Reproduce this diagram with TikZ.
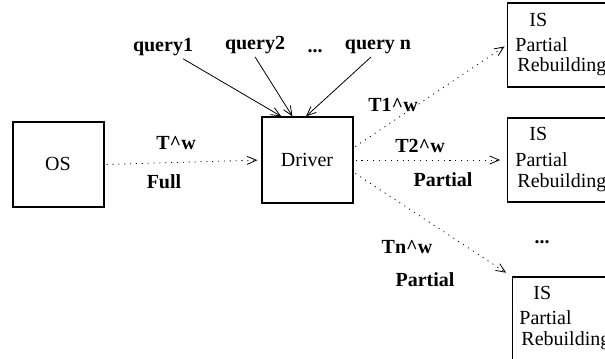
\documentclass[tikz,border=0pt]{standalone}
\usepackage{fontspec}
\setmainfont{Liberation Serif}
\usetikzlibrary{arrows.meta}

\tikzset{every picture/.style={line width=0.6pt}}
\tikzset{
  boxnode/.style={draw,line width=0.9pt,minimum width=68.25pt,minimum height=63.75pt,inner sep=0pt},
  isbox/.style={draw,line width=0.9pt,minimum width=82pt,minimum height=63pt,inner sep=0pt},
  lbl/.style={font=\fontsize{15}{18}\selectfont\bfseries,inner sep=2pt},
  txt/.style={font=\fontsize{15}{18}\selectfont,inner sep=0pt},
  flow/.style={dash pattern=on 0.8pt off 3.6pt,-{Straight Barb[length=7pt,width=6pt]}},
  qarrow/.style={-{Straight Barb[length=7pt,width=6pt]}}
}

\begin{document}
\begin{tikzpicture}[x=0.75pt,y=0.75pt,yscale=-1,xscale=1]
	\useasboundingbox (0,0) rectangle (605,358);
	\clip (0,0) rectangle (605,358);

	%Shape: Rectangle [OS]
	\node [boxnode] (os) at (58.5,164.5) {};
	%Shape: Rectangle [Driver]
	\node [boxnode,minimum height=64.5pt] (drv) at (307.5,160) {};
	%Shape: Rectangle [IS boxes]
	\node [isbox] (is1) at (562,45) {};
	\node [isbox] (is2) at (562,160) {};
	\node [isbox] (is3) at (567,319) {};

	% Text Node
	\draw (58,164) node [txt] (ostxt) {OS};
	% Text Node
	\draw (307,160) node [txt] (drvtxt) {Driver};

	% Text Node
	\draw (529,20) node [txt,anchor=west] (is1a) {IS};
	\draw (515,45) node [txt,anchor=west] (is1b) {Partial};
	\draw (517,67) node [txt,anchor=west] (is1c) {Rebuilding};
	% Text Node
	\draw (529,134) node [txt,anchor=west] (is2a) {IS};
	\draw (515,160) node [txt,anchor=west] (is2b) {Partial};
	\draw (517,183) node [txt,anchor=west] (is2c) {Rebuilding};
	% Text Node
	\draw (533,293) node [txt,anchor=west] (is3a) {IS};
	\draw (519,318) node [txt,anchor=west] (is3b) {Partial};
	\draw (521,341) node [txt,anchor=west] (is3c) {Rebuilding};

	% Text Node
	\draw (163,47) node [lbl] (q1) {query1};
	\draw (255,45) node [lbl] (q2) {query2};
	\draw (315,51) node [lbl] (qdots) {...};
	\draw (378,47) node [lbl] (qn) {query n};
	% Text Node
	\draw (176,143) node [lbl] (tw) {T\textasciicircum w};
	\draw (164,182) node [lbl] (full) {Full};
	\draw (393,105) node [lbl] (t1w) {T1\textasciicircum w};
	\draw (420,146) node [lbl] (t2w) {T2\textasciicircum w};
	\draw (443,180) node [lbl] (p2) {Partial};
	\draw (407,247) node [lbl] (tnw) {Tn\textasciicircum w};
	\draw (425,280) node [lbl] (pn) {Partial};
	\draw (542,242) node [lbl] (isdots) {...};

	%Straight Lines [queries]
	\draw [qarrow] (q1) -- (drv.121);
	\draw [qarrow] (q2.south) -- (drv.109);
	\draw [qarrow] (qn.235) -- (drv.92);
	%Dotted Lines [flows]
	\draw [flow,shorten <=1.5pt,shorten >=3pt] (os.east) -- (drv.west);
	\draw [flow,shorten <=1.5pt,shorten >=2pt] (drv.15) -- (is1.west);
	\draw [flow,shorten <=1.5pt,shorten >=5pt] (drv.east) -- (is2.west);
	\draw [flow,shorten <=1.5pt,shorten >=5pt] (drv.-15) -- (is3.north west);

\end{tikzpicture}
\end{document}
